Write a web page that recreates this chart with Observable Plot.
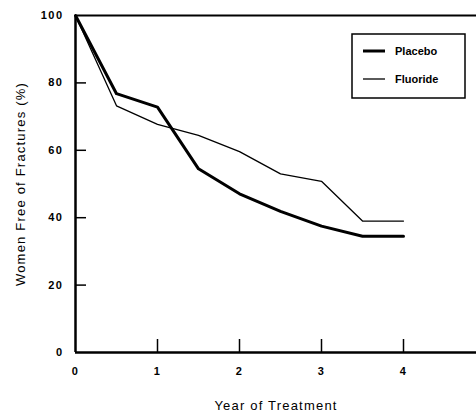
<!DOCTYPE html>
<html><head><meta charset="utf-8">
<script src="https://cdn.jsdelivr.net/npm/d3@7"></script>
<script src="https://cdn.jsdelivr.net/npm/@observablehq/plot@0.6"></script>
<style>body{margin:0;background:#fff} #chart svg{font-family:"Liberation Sans",Arial,sans-serif;background:#fff}</style>
</head><body><div id="chart"></div>
<script>
const years = [0, 0.5, 1, 1.5, 2, 2.5, 3, 3.5, 4];
const placebo = [100, 76.8, 72.8, 54.5, 47.1, 41.9, 37.5, 34.5, 34.5];
const fluoride = [100, 73.2, 67.7, 64.4, 59.6, 53.0, 50.8, 39.0, 39.0];
const seriesNames = ["Placebo", "Fluoride"];
const xTicks = [0, 1, 2, 3, 4];
const yTicks = [0, 20, 40, 60, 80, 100];
const xLabel = "Year of Treatment";
const yLabel = "Women Free of Fractures (%)";

const rows = [
  ...years.map((t, i) => ({year: t, value: placebo[i], series: seriesNames[0]})),
  ...years.map((t, i) => ({year: t, value: fluoride[i], series: seriesNames[1]}))
];

const chart = Plot.plot({
  width: 476,
  height: 415,
  marginLeft: 75,
  marginTop: 15,
  marginBottom: 63,
  marginRight: 0,
  x: {domain: [0, 5], range: [75, 485]},
  y: {domain: [0, 100]},
  marks: [
    Plot.axisX(xTicks.slice(1), {tickSize: 13, tickFormat: () => "", strokeWidth: 1.5, label: null}),
    Plot.axisY(yTicks.slice(1, -1), {tickSize: 11, tickFormat: () => "", strokeWidth: 1.5, label: null}),
    Plot.axisX(xTicks, {tickSize: 0, tickPadding: 15, fontSize: 11, fontWeight: "bold", label: xLabel, labelAnchor: "center", labelOffset: 57, labelArrow: "none"}),
    Plot.axisY(yTicks, {tickSize: 0, tickPadding: 12, fontSize: 11, fontWeight: "bold", label: yLabel, labelAnchor: "center", labelOffset: 60, labelArrow: "none"}),
    Plot.ruleY([0], {x1: 0, x2: 5, strokeWidth: 2.5}),
    Plot.ruleY([100], {x1: 0, x2: 5, strokeWidth: 2}),
    Plot.ruleX([0], {y1: 0, y2: 100, strokeWidth: 2.5}),
    Plot.line(rows.filter(d => d.series === seriesNames[0]), {x: "year", y: "value", strokeWidth: 3}),
    Plot.line(rows.filter(d => d.series === seriesNames[1]), {x: "year", y: "value", strokeWidth: 1.3})
  ]
});

const svg = d3.select(chart);
// turn the tick marks inward (into the plot frame), as in the original figure
svg.selectAll("g[aria-label='x-axis tick'] path, g[aria-label='y-axis tick'] path")
  .attr("d", function() {
    const d = this.getAttribute("d") || "";
    return d.replace(/L\s*(-?[\d.e]+)[ ,]\s*(-?[\d.e]+)/g, (m, a, b) => `L${-a},${-b}`);
  });
svg.selectAll("g[aria-label='x-axis label'] text, g[aria-label='y-axis label'] text")
  .attr("font-size", 13).attr("font-weight", "normal").attr("letter-spacing", 1.2);
svg.selectAll("g[aria-label='x-axis tick label'] text, g[aria-label='y-axis tick label'] text")
  .attr("letter-spacing", 1.5);

const lg = svg.append("g").attr("font-size", 11).attr("font-weight", "bold").attr("text-anchor", "start");
lg.append("rect").attr("x", 352).attr("y", 34).attr("width", 113).attr("height", 64)
  .attr("fill", "white").attr("stroke", "black").attr("stroke-width", 1.5);
[[51, 3], [79, 1.3]].forEach(([yy, sw], i) => {
  lg.append("line").attr("x1", 363).attr("x2", 385).attr("y1", yy).attr("y2", yy)
    .attr("stroke", "black").attr("stroke-width", sw);
  lg.append("text").attr("x", 395).attr("y", yy + 4).text(seriesNames[i]);
});

document.getElementById("chart").append(chart);
</script></body></html>
